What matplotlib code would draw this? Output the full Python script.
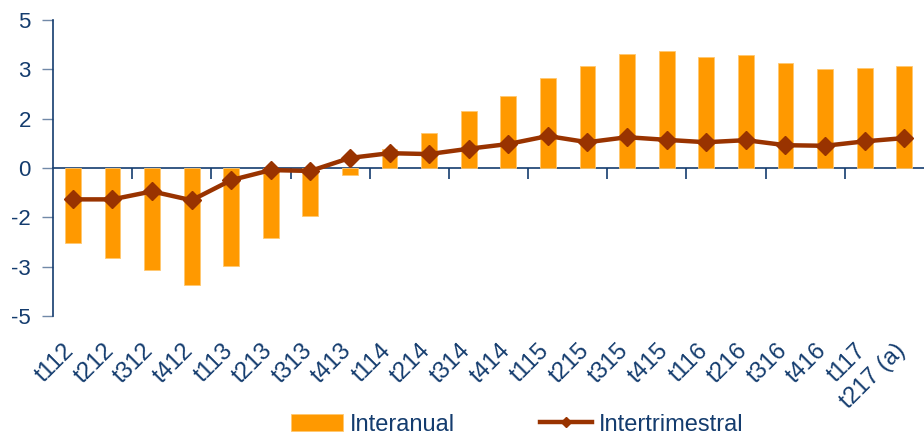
import matplotlib
matplotlib.use("Agg")
import matplotlib.pyplot as plt
import matplotlib.transforms as mtransforms
import numpy as np

# quarters (t = trimestre, then year)
quarters = ["t112", "t212", "t312", "t412", "t113", "t213", "t313", "t413",
            "t114", "t214", "t314", "t414", "t115", "t215", "t315", "t415",
            "t116", "t216", "t316", "t416", "t117", "t217 (a)"]
interanual = [-2.55, -3.05, -3.45, -3.95, -3.30, -2.35, -1.62, -0.23,
              0.63, 1.17, 1.91, 2.43, 3.03, 3.46, 3.85, 3.95,
              3.74, 3.81, 3.54, 3.34, 3.39, 3.46]
intertrimestral = [-1.06, -1.06, -0.79, -1.09, -0.41, -0.07, -0.10, 0.34,
                   0.50, 0.47, 0.65, 0.81, 1.08, 0.87, 1.04, 0.95,
                   0.87, 0.94, 0.77, 0.75, 0.90, 1.01]
yticks = [-5, -10 / 3, -5 / 3, 0, 5 / 3, 10 / 3, 5]
ytick_labels = ["-5", "-3", "-2", "0", "2", "3", "5"]

NAVY = "#143c6e"
ORANGE = "#ff9900"
BROWN = "#993300"

plt.rcParams["font.family"] = ["Liberation Sans", "DejaVu Sans"]

fig = plt.figure(figsize=(9.24, 4.36), dpi=100)
ax = fig.add_axes([0.0574, 0.2752, 0.9426, 0.679])

x = np.arange(len(quarters))
bars = ax.bar(x, interanual, width=0.4, color=ORANGE, edgecolor="#ffc870",
              linewidth=0.6, label="Interanual", zorder=2)
line, = ax.plot(x, intertrimestral, color=BROWN, lw=3.2, marker="D", ms=9,
                label="Intertrimestral", zorder=4)

ax.set_xlim(-0.5, len(quarters) - 0.5)
ax.set_ylim(-5, 5)
ax.set_yticks(yticks, ytick_labels)
ax.tick_params(axis="y", length=8, width=1, color="#7189a8", pad=8,
               labelsize=16, labelcolor=NAVY)
ax.set_xticks(x, quarters, rotation=45, ha="right", va="top")
ax.tick_params(axis="x", length=0, pad=17, labelsize=17, labelcolor=NAVY)
shift = mtransforms.ScaledTranslation(6 / 100, 0, fig.dpi_scale_trans)
for lab in ax.get_xticklabels():
    lab.set_transform(lab.get_transform() + shift)
for s in ["top", "right", "bottom"]:
    ax.spines[s].set_visible(False)
ax.spines["left"].set_color(NAVY)
ax.spines["left"].set_linewidth(1.2)

# zero line with tick marks every two quarters
zero = ax.secondary_xaxis(0.5)
zero.set_alignment("bottom")
zero.set_xticks(np.arange(1.5, len(quarters) - 1, 2))
zero.tick_params(length=8, width=1.2, color=NAVY, labelbottom=False)
zero.spines["bottom"].set_color(NAVY)
zero.spines["bottom"].set_linewidth(1.2)

fig.legend([bars, line], ["Interanual", "Intertrimestral"], loc="center",
           bbox_to_anchor=(0.56, 0.026), ncol=2, frameon=False,
           fontsize=17, labelcolor=NAVY, handlelength=2.2, handletextpad=0.3,
           columnspacing=3.6, markerscale=0.6)

fig.savefig("out.png", dpi=100)
